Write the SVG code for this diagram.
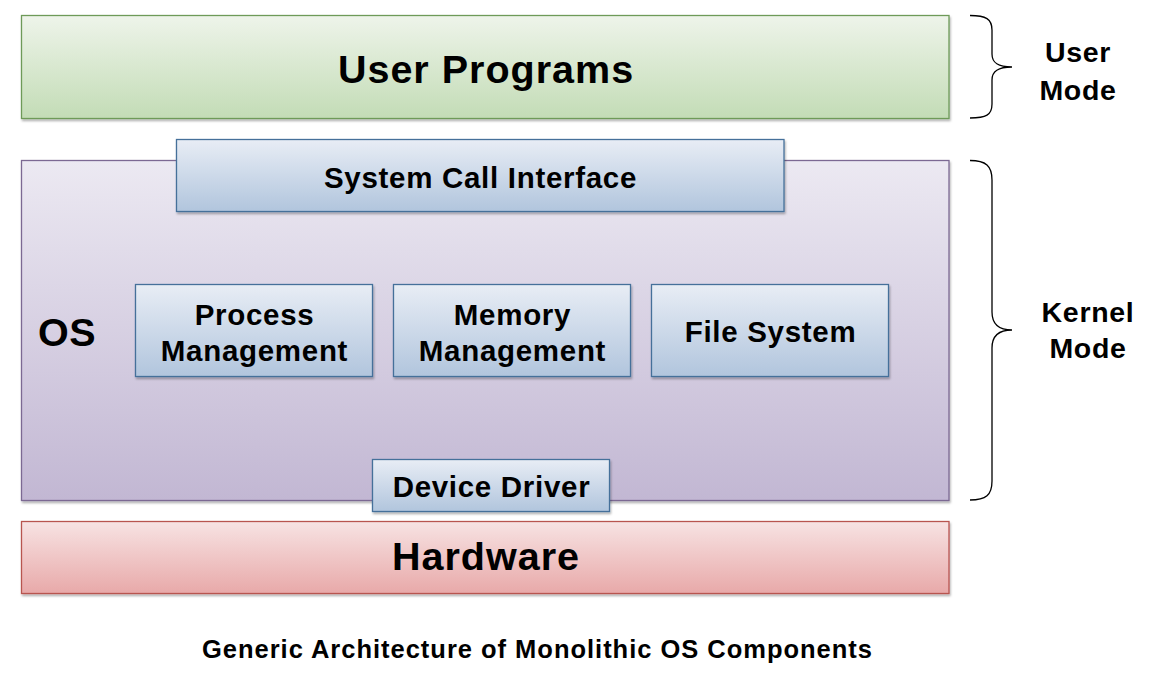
<svg xmlns="http://www.w3.org/2000/svg" width="1162" height="678" viewBox="0 0 1162 678">
<style>
text{font-family:"Liberation Sans",Arial,sans-serif;font-weight:bold;fill:#000;}
.big{font-size:39.5px;letter-spacing:1px;}
.mid{font-size:29.5px;letter-spacing:0.7px;}
.side{font-size:28.5px;letter-spacing:0.7px;}
.cap{font-size:25.5px;}
.blue{fill:url(#gBlue);stroke:#45709a;stroke-width:1.3;filter:url(#sh);}
.brace{fill:none;stroke:#000;stroke-width:1.3;}
</style>
<defs>
<linearGradient id="gGreen" x1="0" y1="0" x2="0" y2="1"><stop offset="0" stop-color="#eef4ea"/><stop offset="1" stop-color="#c3dcb6"/></linearGradient>
<linearGradient id="gPurple" x1="0" y1="0" x2="0" y2="1"><stop offset="0" stop-color="#ece9f2"/><stop offset="1" stop-color="#c2b7d3"/></linearGradient>
<linearGradient id="gRed" x1="0" y1="0" x2="0" y2="1"><stop offset="0" stop-color="#f7e3e3"/><stop offset="1" stop-color="#e8a9a9"/></linearGradient>
<linearGradient id="gBlue" x1="0" y1="0" x2="0" y2="1"><stop offset="0" stop-color="#e8edf5"/><stop offset="1" stop-color="#b1c5dd"/></linearGradient>
<filter id="sh" x="-5%" y="-10%" width="110%" height="130%"><feDropShadow dx="1" dy="2" stdDeviation="1.2" flood-color="#000" flood-opacity="0.3"/></filter>
</defs>
<g id="user-programs">
<rect x="21.5" y="15.5" width="927.5" height="103" fill="url(#gGreen)" stroke="#6e9a58" stroke-width="1.3" filter="url(#sh)"/>
<text class="big" x="486" y="83" text-anchor="middle">User Programs</text>
</g>
<g id="os">
<rect x="21.5" y="160.5" width="927.5" height="340" fill="url(#gPurple)" stroke="#7b6993" stroke-width="1.3" filter="url(#sh)"/>
<text class="big" x="38" y="346" style="letter-spacing:0.5px">OS</text>
</g>
<g id="system-call-interface">
<rect class="blue" x="176.5" y="139.5" width="607.5" height="72"/>
<text class="mid" x="480.5" y="188" text-anchor="middle">System Call Interface</text>
</g>
<g id="process-management">
<rect class="blue" x="135.5" y="284.5" width="237" height="92"/>
<text class="mid" x="254.5" y="325" text-anchor="middle">Process</text>
<text class="mid" x="254.5" y="361" text-anchor="middle">Management</text>
</g>
<g id="memory-management">
<rect class="blue" x="393.5" y="284.5" width="237" height="92"/>
<text class="mid" x="512.5" y="325" text-anchor="middle">Memory</text>
<text class="mid" x="512.5" y="361" text-anchor="middle">Management</text>
</g>
<g id="file-system">
<rect class="blue" x="651.5" y="284.5" width="237" height="92"/>
<text class="mid" x="770.5" y="342" text-anchor="middle">File System</text>
</g>
<g id="device-driver">
<rect class="blue" x="372.5" y="459.5" width="237" height="52"/>
<text class="mid" x="491.5" y="497" text-anchor="middle">Device Driver</text>
</g>
<g id="hardware">
<rect x="21.5" y="521.5" width="927.5" height="72" fill="url(#gRed)" stroke="#b85450" stroke-width="1.3" filter="url(#sh)"/>
<text class="big" x="486" y="570" text-anchor="middle">Hardware</text>
</g>
<g id="user-mode">
<path class="brace" d="M970,15.5 C986,15.5 992,19 992,30 L992,54 C992,63 998,67 1012,67 C998,67 992,71 992,80 L992,104 C992,115 986,118 970,118"/>
<text class="side" x="1078" y="62" text-anchor="middle">User</text>
<text class="side" x="1078" y="100" text-anchor="middle">Mode</text>
</g>
<g id="kernel-mode">
<path class="brace" d="M970,160.5 C986,160.5 992,166 992,180 L992,312 C992,324 998,330 1012,330 C998,330 992,336 992,348 L992,481 C992,495 986,500 970,500"/>
<text class="side" x="1088" y="322" text-anchor="middle">Kernel</text>
<text class="side" x="1088" y="358" text-anchor="middle">Mode</text>
</g>
<g id="connectors"></g>
<text class="cap" x="537" y="658" text-anchor="middle" textLength="670" lengthAdjust="spacing">Generic Architecture of Monolithic OS Components</text>
</svg>
